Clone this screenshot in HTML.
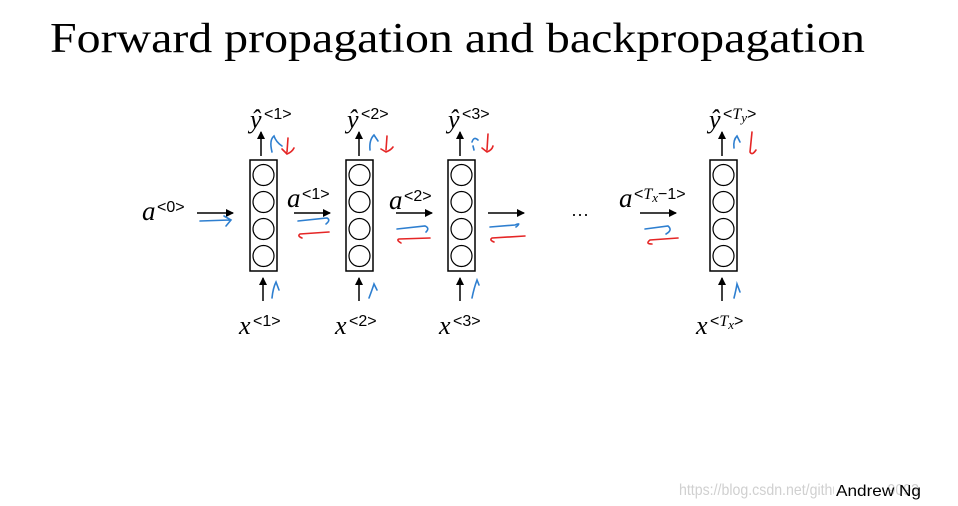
<!DOCTYPE html>
<html><head><meta charset="utf-8"><style>
html,body{margin:0;padding:0;background:#fff;}
svg{display:block;}
</style></head><body>
<svg width="958" height="506" viewBox="0 0 958 506" xmlns="http://www.w3.org/2000/svg">
<defs>
<marker id="ah" markerWidth="8" markerHeight="8" refX="7" refY="4" orient="auto" markerUnits="userSpaceOnUse"><path d="M0,0 L8,4 L0,8 z" fill="#000"/></marker>
</defs>
<text x="50" y="52" font-family="Liberation Serif, serif" font-size="42" textLength="815" lengthAdjust="spacingAndGlyphs">Forward propagation and backpropagation</text>

<g fill="none" stroke="#000" stroke-width="1.5">
<rect x="250" y="160" width="27" height="111"/>
<rect x="346" y="160" width="27" height="111"/>
<rect x="448" y="160" width="27" height="111"/>
<rect x="710" y="160" width="27" height="111"/>
</g>
<g fill="none" stroke="#000" stroke-width="1.2">
<circle cx="263.5" cy="175" r="10.5"/><circle cx="263.5" cy="202" r="10.5"/><circle cx="263.5" cy="229" r="10.5"/><circle cx="263.5" cy="256" r="10.5"/>
<circle cx="359.5" cy="175" r="10.5"/><circle cx="359.5" cy="202" r="10.5"/><circle cx="359.5" cy="229" r="10.5"/><circle cx="359.5" cy="256" r="10.5"/>
<circle cx="461.5" cy="175" r="10.5"/><circle cx="461.5" cy="202" r="10.5"/><circle cx="461.5" cy="229" r="10.5"/><circle cx="461.5" cy="256" r="10.5"/>
<circle cx="723.5" cy="175" r="10.5"/><circle cx="723.5" cy="202" r="10.5"/><circle cx="723.5" cy="229" r="10.5"/><circle cx="723.5" cy="256" r="10.5"/>
</g>
<g stroke="#000" stroke-width="1.5" marker-end="url(#ah)">
<line x1="261" y1="156" x2="261" y2="132"/>
<line x1="359" y1="156" x2="359" y2="132"/>
<line x1="460" y1="156" x2="460" y2="132"/>
<line x1="722" y1="156" x2="722" y2="132"/>
<line x1="263" y1="301" x2="263" y2="278"/>
<line x1="359" y1="301" x2="359" y2="278"/>
<line x1="460" y1="301" x2="460" y2="278"/>
<line x1="722" y1="301" x2="722" y2="278"/>
<line x1="197" y1="213" x2="233" y2="213"/>
<line x1="294" y1="213" x2="330" y2="213"/>
<line x1="396" y1="213" x2="432" y2="213"/>
<line x1="488" y1="213" x2="524" y2="213"/>
<line x1="640" y1="213" x2="676" y2="213"/>
</g>
<g fill="none" stroke="#2e7fd0" stroke-width="1.6" stroke-linecap="round">
<path d="M200,221 L230,220 M224,216 L231,220 L226,226"/>
<path d="M298,221 L327,218 Q331,220 326,224"/>
<path d="M397,229 L425,226 Q430,228 426,232"/>
<path d="M490,227 L515,225 Q522,222 516,227"/>
<path d="M645,229 L668,226 Q673,230 666,234"/>
<path d="M272,152 Q269,140 274,136 Q276,142 282,146"/>
<path d="M370,150 Q369,140 374,135 L378,141"/>
<path d="M474,150 L473,146 M472,142 Q474,136 478,140"/>
<path d="M734,148 Q733,140 737,136 L740,142"/>
<path d="M272,298 Q273,288 276,282 L279,290"/>
<path d="M369,298 Q372,290 374,284 L377,290"/>
<path d="M472,298 Q474,288 477,280 L479,285"/>
<path d="M734,298 Q736,290 737,284 L740,292"/>
</g>
<g fill="none" stroke="#e52626" stroke-width="1.6" stroke-linecap="round">
<path d="M329,232 L300,234 Q297,236 302,238"/>
<path d="M430,238 L399,239 Q396,240 401,243"/>
<path d="M525,236 L492,238 Q489,240 494,242"/>
<path d="M678,238 L650,240 Q645,244 652,244"/>
<path d="M288,138 L287,152 M282,149 L287,154 Q292,152 294,148"/>
<path d="M387,136 L386,150 M381,149 L386,152 Q391,150 393,147"/>
<path d="M488,134 L487,150 M482,148 L487,152 Q492,150 493,146"/>
<path d="M752,132 L750,152 Q752,156 756,150"/>
</g>

<g font-family="Liberation Serif, serif" font-style="italic" fill="#000">
<text x="142" y="220" font-size="27">a</text>
<text x="287" y="207" font-size="27">a</text>
<text x="389" y="209" font-size="27">a</text>
<text x="619" y="207" font-size="27">a</text>
<text x="250" y="128" font-size="26">ŷ</text>
<text x="347" y="128" font-size="26">ŷ</text>
<text x="448" y="128" font-size="26">ŷ</text>
<text x="709" y="128" font-size="26">ŷ</text>
<text x="239" y="334" font-size="26">x</text>
<text x="335" y="334" font-size="26">x</text>
<text x="439" y="334" font-size="26">x</text>
<text x="696" y="334" font-size="26">x</text>
</g>
<g font-family="Liberation Sans, sans-serif" font-size="16" fill="#000">
<text x="157" y="212">&lt;0&gt;</text>
<text x="302" y="199">&lt;1&gt;</text>
<text x="404" y="201">&lt;2&gt;</text>
<text x="634" y="199">&lt;<tspan font-family="Liberation Serif, serif" font-style="italic">T</tspan><tspan font-family="Liberation Serif, serif" font-style="italic" font-size="13" dy="3">x</tspan><tspan dy="-3">−1&gt;</tspan></text>
<text x="264" y="119">&lt;1&gt;</text>
<text x="361" y="119">&lt;2&gt;</text>
<text x="462" y="119">&lt;3&gt;</text>
<text x="723" y="119">&lt;<tspan font-family="Liberation Serif, serif" font-style="italic">T</tspan><tspan font-family="Liberation Serif, serif" font-style="italic" font-size="13" dy="3">y</tspan><tspan dy="-3">&gt;</tspan></text>
<text x="253" y="326">&lt;1&gt;</text>
<text x="349" y="326">&lt;2&gt;</text>
<text x="453" y="326">&lt;3&gt;</text>
<text x="710" y="326">&lt;<tspan font-family="Liberation Serif, serif" font-style="italic">T</tspan><tspan font-family="Liberation Serif, serif" font-style="italic" font-size="13" dy="3">x</tspan><tspan dy="-3">&gt;</tspan></text>
</g>
<text x="571" y="220" font-family="Liberation Sans, sans-serif" font-size="18">···</text>

<text x="679" y="495" font-family="Liberation Sans, sans-serif" font-size="16" fill="#d0d0d0" textLength="240" lengthAdjust="spacingAndGlyphs">https://blog.csdn.net/github_36699093</text>
<rect x="834" y="478" width="54" height="22" fill="#fff"/>
<text x="836" y="496" font-family="Liberation Sans, sans-serif" font-size="16" fill="#000" textLength="85" lengthAdjust="spacingAndGlyphs">Andrew Ng</text>
</svg>
</body></html>
